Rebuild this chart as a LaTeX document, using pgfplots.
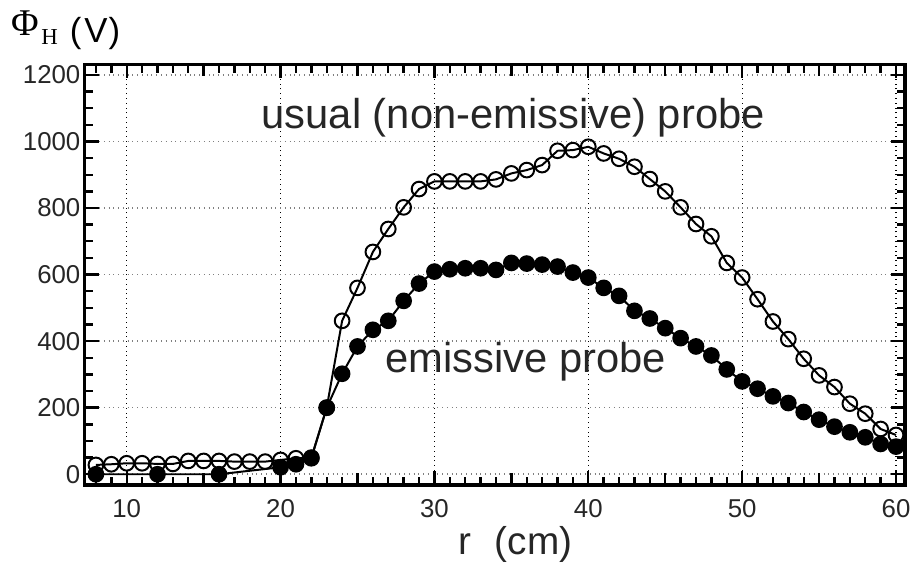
\documentclass[border=0pt]{standalone}
\usepackage{pgfplots}
\pgfplotsset{compat=1.18}
\usepackage{fontspec}
\setmainfont{Liberation Sans}
\newfontfamily\serifff{Liberation Serif}
\begin{document}
\begin{tikzpicture}
\begin{axis}[
  scale only axis,
  width=413pt, height=211.8pt,
  xmin=7.27, xmax=60.58,
  ymin=-32, ymax=1232,
  clip=false,
  axis line style={line width=1.7pt},
  xtick={10,20,...,60},
  ytick={0,200,...,1200},
  minor xtick={8,9,...,60},
  minor ytick={50,100,...,1200},
  extra x ticks={15,25,35,45,55},
  extra x tick labels={},
  extra x tick style={grid=none, major tick length=5.8pt},
  major tick length=7pt,
  minor tick length=4.2pt,
  every tick/.style={black, line width=1.2pt},
  tick align=inside,
  grid=major,
  x grid style={black, dotted, line width=0.6pt},
  y grid style={gray, dotted, line width=0.8pt},
  /pgf/number format/assume math mode=true,
  /pgf/number format/1000 sep={},
  tick label style={font=\fontsize{13}{13}\selectfont, text=black!85},
  yticklabel style={inner xsep=2pt},
  xticklabel style={yshift=-4pt},
]
\addplot[black, line width=1pt, mark=o, mark size=3.7pt, mark options={line width=1pt}] coordinates {
(8,28)(9,30)(10,33)(11,33)(12,31)(13,31)(14,40)(15,40)(16,40)(17,38)(18,38)(19,38)(20,43)(21,48)(22,50)(23,200)
(24,461)(25,560)(26,668)(27,737)(28,802)(29,857)(30,880)(31,880)(32,880)(33,880)(34,886)(35,904)(36,914)(37,929)
(38,972)(39,974)(40,984)(41,964)(42,948)(43,924)(44,887)(45,850)(46,802)(47,752)(48,715)(49,635)(50,591)(51,526)
(52,459)(53,406)(54,347)(55,297)(56,262)(57,212)(58,182)(59,136)(60,118)
};
\addplot[black, line width=1pt, mark=*, mark size=3.7pt, mark options={fill=black}] coordinates {
(8,0)(12,0)(16,0)(20,21)(21,30)(22,48)(23,200)(24,302)(25,384)(26,434)(27,461)(28,521)(29,573)(30,609)
(31,616)(32,619)(33,619)(34,614)(35,635)(36,633)(37,630)(38,624)(39,606)(40,591)(41,560)(42,536)(43,491)
(44,468)(45,439)(46,409)(47,384)(48,357)(49,315)(50,279)(51,257)(52,234)(53,214)(54,187)(55,164)(56,143)
(57,126)(58,111)(59,91)(60,83)
};
\node[anchor=base west, inner sep=0pt, font=\fontsize{21}{21}\selectfont, text=black!85] at (axis cs:18.75,1039) {usual (non-emissive) probe};
\node[anchor=base west, inner sep=0pt, font=\fontsize{21}{21}\selectfont, text=black!85] at (axis cs:26.81,307) {emissive probe};
\node[anchor=base, inner sep=0pt, font=\fontsize{19.5}{20}\selectfont, text=black!85] at (rel axis cs:0.5248,0) [yshift=-35pt] {r\hspace{12pt}(cm)};
\node[anchor=base west, inner sep=0pt, font=\fontsize{19}{19}\serifff] at (rel axis cs:0,1) [xshift=-37pt, yshift=14.35pt] {Φ};
\node[anchor=base west, inner sep=0pt, font=\fontsize{11.5}{12}\serifff] at (rel axis cs:0,1) [xshift=-22pt, yshift=9.85pt] {H};
\node[anchor=base west, inner sep=0pt, font=\fontsize{17.5}{18}\selectfont] at (rel axis cs:0,1) [xshift=-7.65pt, yshift=11pt] {(\hspace{1.5pt}V\hspace{0.5pt})};
\end{axis}
\path (current axis.south west) ++(-42.65pt,-39.85pt) rectangle ++(458.5pt,284pt);
\end{tikzpicture}
\end{document}
